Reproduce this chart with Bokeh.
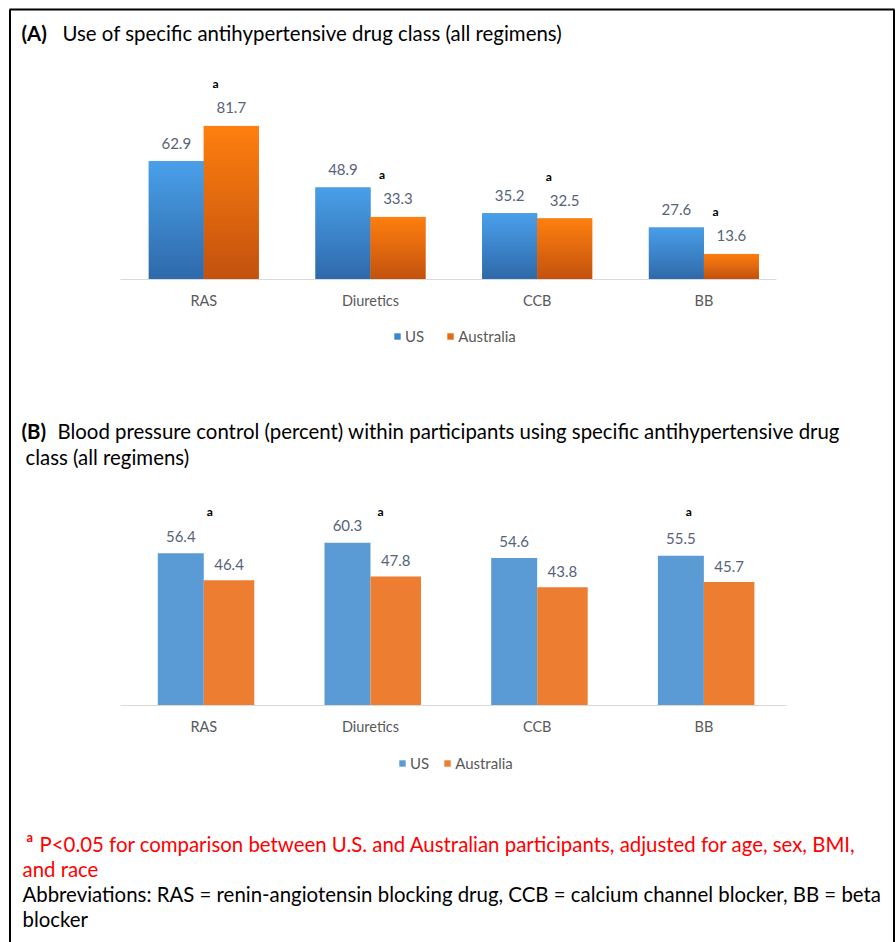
import numpy as np
from bokeh.plotting import figure
from bokeh.models import Range1d, FactorRange, ColumnDataSource, Legend, LegendItem
from bokeh.transform import dodge
from bokeh.core.properties import value
from bokeh.embed import file_html
from bokeh.resources import INLINE

# ---------------- data ----------------
categories = ["RAS", "Diuretics", "CCB", "BB"]
series = ["US", "Australia"]
use_us = [62.9, 48.9, 35.2, 27.6]
use_au = [81.7, 33.3, 32.5, 13.6]
use_sig = ["a", "a", "a", "a"]
ctrl_us = [56.4, 60.3, 54.6, 55.5]
ctrl_au = [46.4, 47.8, 43.8, 45.7]
ctrl_sig = ["a", "a", "", "a"]

title_a = "Use of specific antihypertensive drug class (all regimens)"
title_b1 = "Blood pressure  control (percent) within participants using specific antihypertensive drug"
title_b2 = "class (all regimens)"
foot_1 = "P<0.05 for comparison between U.S. and Australian participants, adjusted for age, sex, BMI,"
foot_2 = "and race"
foot_3 = "Abbreviations:  RAS = renin-angiotensin blocking drug, CCB = calcium channel blocker, BB = beta"
foot_4 = "blocker"

# ---------------- layout / style ----------------
W, H = 896, 942
FONT = value("Lato")
A0, AK = 279, 1.88     # panel A baseline (page px) and px per unit
B0, BK = 705, 2.70     # panel B baseline and px per unit
OFF = 0.032            # small horizontal shift of the category band
PAD = 0.6875           # category range padding on each side (absolute)
sigB_dx = [6, 10, 0, -15]

cat_range = FactorRange(factors=categories, range_padding=PAD,
                        range_padding_units="absolute")
X_START = -PAD
X_SPAN = len(categories) + 2 * PAD


def px(x):
    """page pixel (from left) -> synthetic coordinate of the category range"""
    return X_START + x / W * X_SPAN


p = figure(width=W, height=H, x_range=cat_range, y_range=Range1d(H, 0),
           output_backend="svg", toolbar_location=None, min_border=0,
           x_axis_location=None, y_axis_location=None)
p.outline_line_color = None
p.grid.visible = False
p.background_fill_color = "white"
p.border_fill_color = "white"
p.extra_y_ranges = {"yA": Range1d(-(H - A0) / AK, A0 / AK),
                    "yB": Range1d(-(H - B0) / BK, B0 / BK)}

# frame
p.segment(x0=[px(9), px(9.5), px(893.5)], y0=[9, 9, 9],
          x1=[px(894), px(9.5), px(893.5)], y1=[9, H, H],
          line_color="black", line_width=2)

TXT = "20.4px"


# ---------------- titles ----------------
def txt(x, y, s, size=TXT, style="normal", color="black", align="left"):
    p.text(x=[px(x)], y=[y], text=[s], text_font=FONT, text_font_size=size,
           text_font_style=style, text_color=color, text_align=align,
           text_baseline="middle")


txt(21, 32, "(A)", style="bold")
txt(62, 32, title_a)
txt(21, 430, "(B)", style="bold")
txt(57, 430, title_b1)
txt(25, 456, title_b2)
txt(26, 836, "a", size="13px", style="bold", color="#ff0000")
txt(39, 843, foot_1, color="#ff0000")
txt(22, 868, foot_2, color="#ff0000")
txt(22, 893, foot_3)
txt(22, 918, foot_4)


# ---------------- gradient helper ----------------
def gradient(top, bot, n=96):
    top = np.array([int(top[i:i + 2], 16) for i in (1, 3, 5)], float)
    bot = np.array([int(bot[i:i + 2], 16) for i in (1, 3, 5)], float)
    t = np.linspace(0, 1, n)[:, None]
    rgb = bot * (1 - t) + top * t
    img = np.empty((n, 1), dtype=np.uint32)
    view = img.view(dtype=np.uint8).reshape((n, 1, 4))
    view[:, 0, 0:3] = rgb.astype(np.uint8)
    view[:, 0, 3] = 255
    return img


BLUE_TOP, BLUE_BOT = "#4aa0ea", "#2f6aab"
ORG_TOP, ORG_BOT = "#ff800e", "#c4520f"

# ---------------- panel A ----------------
srcA = ColumnDataSource(dict(
    cat=categories, us=use_us, au=use_au,
    us_lbl=[f"{v:.1f}" for v in use_us], au_lbl=[f"{v:.1f}" for v in use_au],
    sig=use_sig,
    g_us=[gradient(BLUE_TOP, BLUE_BOT)] * len(categories),
    g_au=[gradient(ORG_TOP, ORG_BOT)] * len(categories)))

WA = 0.33
rA_us = p.vbar(x=dodge("cat", -WA / 2 + OFF, range=cat_range), top="us", bottom=0,
               width=WA, source=srcA, y_range_name="yA",
               fill_color="#3a86d0", line_color=None)
rA_au = p.vbar(x=dodge("cat", WA / 2 + OFF, range=cat_range), top="au", bottom=0,
               width=WA, source=srcA, y_range_name="yA",
               fill_color="#e66a12", line_color=None)
p.image_rgba(image="g_us", x=dodge("cat", -WA + OFF, range=cat_range), y=0,
             dw=WA, dh="us", source=srcA, y_range_name="yA")
p.image_rgba(image="g_au", x=dodge("cat", OFF, range=cat_range), y=0,
             dw=WA, dh="au", source=srcA, y_range_name="yA")

lbl_kw = dict(text_font=FONT, text_font_size="15px", text_color="#56637a",
              text_align="center", text_baseline="middle")
p.text(x=dodge("cat", -WA / 2 + OFF, range=cat_range), y="us", text="us_lbl",
       y_offset=-18, source=srcA, y_range_name="yA", **lbl_kw)
p.text(x=dodge("cat", WA / 2 + OFF, range=cat_range), y="au", text="au_lbl",
       y_offset=-18, source=srcA, y_range_name="yA", **lbl_kw)
p.text(x=dodge("cat", WA / 2 - 0.095 + OFF, range=cat_range), y="au", text="sig",
       y_offset=-42, source=srcA, y_range_name="yA",
       text_font=FONT, text_font_size="12px", text_font_style="bold",
       text_color="black", text_align="center", text_baseline="middle")

p.segment(x0=[px(120)], y0=[A0], x1=[px(776)], y1=[A0],
          line_color="#d9d9d9", line_width=1)
p.text(x=dodge("cat", OFF, range=cat_range), y=300, text="cat", source=srcA,
       text_font=FONT, text_font_size="14.5px",
       text_color="#595959", text_align="center", text_baseline="middle")

# ---------------- panel B ----------------
srcB = ColumnDataSource(dict(
    cat=categories, us=ctrl_us, au=ctrl_au,
    us_lbl=[f"{v:.1f}" for v in ctrl_us], au_lbl=[f"{v:.1f}" for v in ctrl_au],
    sig=ctrl_sig, dx=sigB_dx))

WBU, WBA = 0.276, 0.303
rB_us = p.vbar(x=dodge("cat", -WBU / 2 + OFF, range=cat_range), top="us", bottom=0,
               width=WBU, source=srcB, y_range_name="yB",
               fill_color="#5b9bd5", line_color=None)
rB_au = p.vbar(x=dodge("cat", WBA / 2 + OFF, range=cat_range), top="au", bottom=0,
               width=WBA, source=srcB, y_range_name="yB",
               fill_color="#ed7d31", line_color=None)
p.text(x=dodge("cat", -WBU / 2 + OFF, range=cat_range), y="us", text="us_lbl",
       y_offset=-17, source=srcB, y_range_name="yB", **lbl_kw)
p.text(x=dodge("cat", WBA / 2 + OFF, range=cat_range), y="au", text="au_lbl",
       y_offset=-16, source=srcB, y_range_name="yB", **lbl_kw)
p.text(x=dodge("cat", OFF, range=cat_range), y=511, text="sig", x_offset="dx",
       source=srcB, text_font=FONT, text_font_size="12px",
       text_font_style="bold", text_color="black", text_align="center",
       text_baseline="middle")

p.segment(x0=[px(120)], y0=[B0], x1=[px(786)], y1=[B0],
          line_color="#d9d9d9", line_width=1)
p.text(x=dodge("cat", OFF, range=cat_range), y=726, text="cat", source=srcB,
       text_font=FONT, text_font_size="14.5px",
       text_color="#595959", text_align="center", text_baseline="middle")


# ---------------- legends ----------------
def make_legend(r_us, r_au, loc, spacing):
    leg = Legend(items=[LegendItem(label=series[0], renderers=[r_us]),
                        LegendItem(label=series[1], renderers=[r_au])],
                 orientation="horizontal", location=loc,
                 glyph_width=8, glyph_height=8, label_standoff=4, spacing=spacing,
                 padding=0, margin=0, label_height=14, label_width=10,
                 label_text_font="Lato", label_text_font_size="15px",
                 label_text_color="#595959",
                 border_line_alpha=0, background_fill_alpha=0)
    p.add_layout(leg)


make_legend(rA_us, rA_au, (393, 597), 22)
make_legend(rB_us, rB_au, (398, 170), 14)

open("out.html", "w").write(file_html(p, INLINE))
